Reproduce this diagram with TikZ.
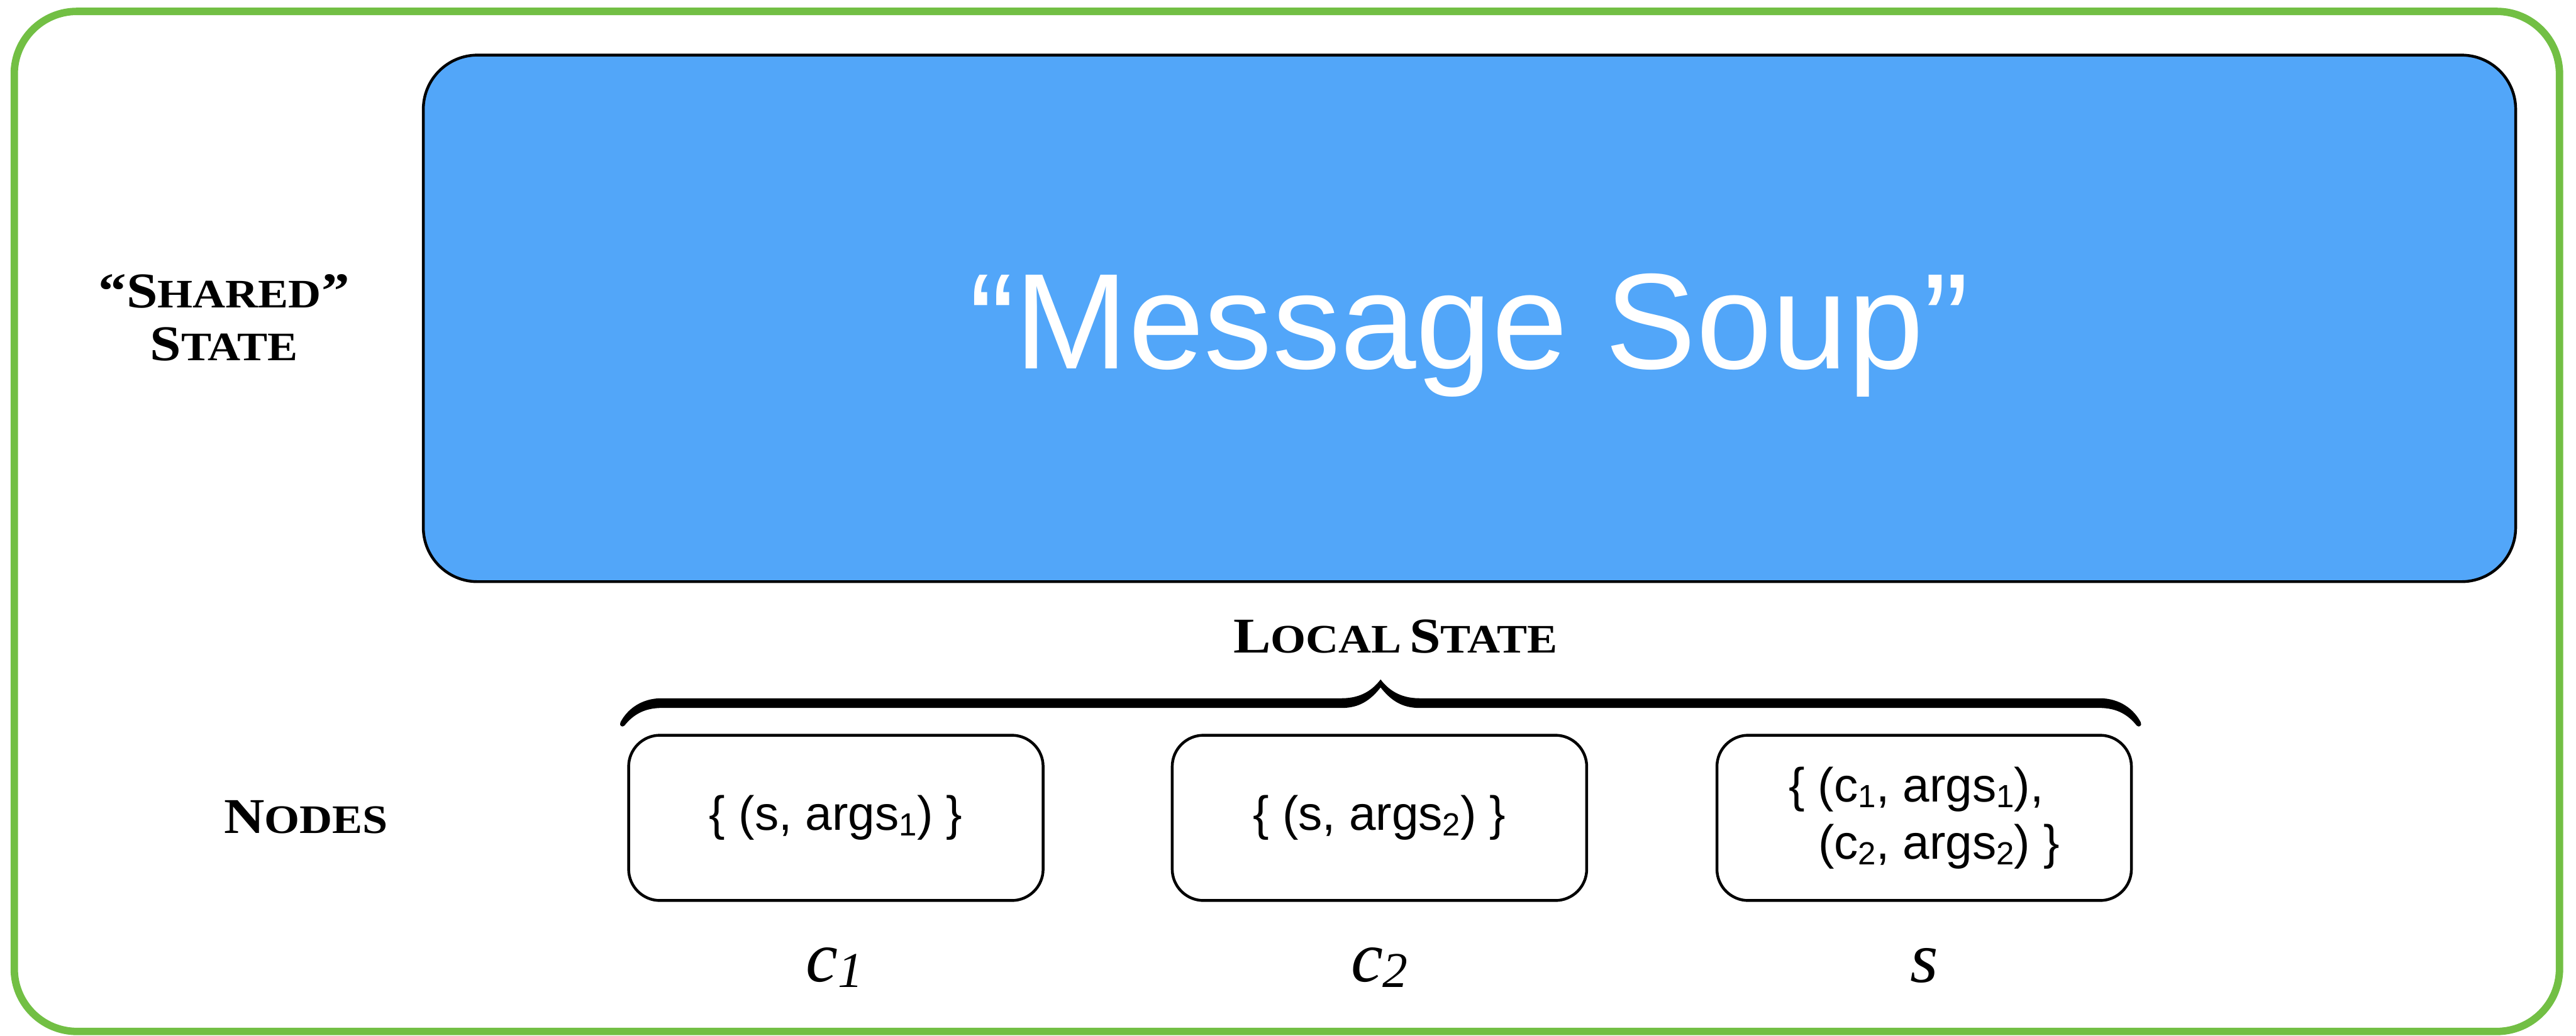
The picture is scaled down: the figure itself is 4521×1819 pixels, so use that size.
\documentclass[tikz,border=0pt]{standalone}
\usepackage{fontspec}
\usepackage{graphicx}
\setmainfont{Liberation Serif}
\newfontfamily\soupfont{Liberation Sans}

\definecolor{framegreen}{RGB}{114,191,68}
\definecolor{soupblue}{RGB}{82,166,249}

% small-caps style headings: large initial, smaller capitals
\newcommand{\capbig}[1]{{\fontsize{25pt}{30pt}\selectfont #1}}
\newcommand{\capsmall}[1]{{\fontsize{20.2pt}{24pt}\selectfont #1}}
\newcommand{\heading}[1]{\scalebox{1.12}[1]{\bfseries #1}}
% lowered index digits
\newcommand{\lowidx}[1]{\raisebox{-2.8pt}{\fontsize{16pt}{18pt}\selectfont #1}}
\newcommand{\nodeidx}[1]{\raisebox{-3pt}{\fontsize{25pt}{28pt}\selectfont #1}}

\begin{document}
\begin{tikzpicture}[x=0.01cm, y=-0.01cm,
  soupbox/.style={draw=black, line width=1.4pt, fill=soupblue,
    rounded corners=0.95cm, inner sep=0pt,
    minimum width=36.70cm, minimum height=9.24cm},
  localbox/.style={draw=black, line width=1.4pt, rounded corners=0.55cm,
    minimum width=7.27cm, minimum height=2.90cm, inner sep=0pt,
    font={\soupfont\fontsize{24pt}{28.5pt}\selectfont}},
  heading/.style={anchor=base, inner sep=0pt},
  procname/.style={anchor=base, inner sep=0pt,
    font={\fontsize{36pt}{42pt}\selectfont\itshape}}]

\useasboundingbox (0,0) rectangle (4521,1819);

% outer frame
\draw[framegreen, line width=3.7pt, rounded corners=1.1cm] (25,20) rectangle (4492,1811);

% shared message soup
\node[soupbox] (soup) at (2579,559) {};
\node[anchor=base, inner sep=0pt, text=white,
  font={\soupfont\fontsize{68pt}{80pt}\selectfont}] (souptext) at (2579,647)
  {“Message Soup”};

% row headings
\node[heading] (sharedA) at (393,540) {\heading{\capbig{“S}\capsmall{HARED}\capbig{”}}};
\node[heading] (sharedB) at (393,633) {\heading{\capbig{S}\capsmall{TATE}}};
\node[heading] (nodes) at (537,1463) {\heading{\capbig{N}\capsmall{ODES}}};
\node[heading] (localstate) at (2449,1146)
  {\heading{\capbig{L}\capsmall{OCAL}\hspace{0.35em}\capbig{S}\capsmall{TATE}}};

% brace over the local states
\fill (1096,1274) .. controls (1111,1255) and (1131,1243) .. (1161,1243)
  -- (2355,1243) .. controls (2385,1243) and (2405,1230) .. (2423,1207)
  .. controls (2441,1230) and (2461,1243) .. (2491,1243)
  -- (3685,1243) .. controls (3715,1243) and (3735,1255) .. (3750,1274)
  .. controls (3754,1278) and (3760,1274) .. (3757,1268)
  .. controls (3745,1245) and (3720,1226) .. (3685,1226)
  -- (2491,1226) .. controls (2456,1226) and (2436,1210) .. (2423,1193)
  .. controls (2410,1210) and (2390,1226) .. (2355,1226)
  -- (1161,1226) .. controls (1126,1226) and (1101,1245) .. (1089,1268)
  .. controls (1086,1274) and (1092,1278) .. (1096,1274) -- cycle;

% local state of each node
\node[localbox] (box1) at (1467,1436) {\{ (s, args\lowidx{1}) \}};
\node[localbox] (box2) at (2421,1436) {\{ (s, args\lowidx{2}) \}};
\node[localbox, align=left] (box3) at (3377,1436)
  {\{ (c\lowidx{1}, args\lowidx{1}),\\\phantom{\{ }(c\lowidx{2}, args\lowidx{2}) \}};

% node names
\node[procname] (c1) at (1465,1723) {c\nodeidx{1}};
\node[procname] (c2) at (2421,1723) {c\nodeidx{2}};
\node[procname] (s) at (3377,1725) {s};
\end{tikzpicture}
\end{document}
